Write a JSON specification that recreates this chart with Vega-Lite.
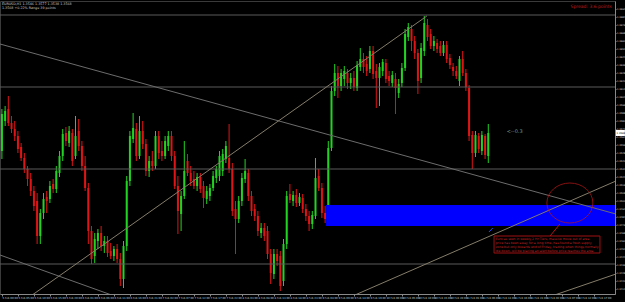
{
"$schema": "https://vega.github.io/schema/vega-lite/v6.json",
"width": 615, "height": 293,
"autosize": {"type": "none"},
"padding": {"left": 0, "top": 1, "right": 10, "bottom": 8},
"background": "#000000",
"config": {"view": {"stroke": "#3a3a3a", "strokeWidth": 1}, "axis": {"grid": false, "title": null, "labelOverlap": false, "labelFlush": false, "labelBound": false, "labelFont": "DejaVu Sans", "labelColor": "#cfcfcf", "tickColor": "#888888", "domainColor": "#888888", "labelPadding": 0.5}, "axisX": {"labelAlign": "left", "labelFontSize": 2.6, "tickSize": 2}, "axisY": {"labelFontSize": 2.4, "tickSize": 1}, "text": {"font": "DejaVu Sans"}},
"datasets": {
"candles": [
{"i":0,"o":1.3550,"h":1.3592,"l":1.3542,"c":1.3587},
{"i":1,"o":1.3580,"h":1.3595,"l":1.3575,"c":1.3590},
{"i":2,"o":1.3592,"h":1.3605,"l":1.3575,"c":1.3578},
{"i":3,"o":1.3578,"h":1.3585,"l":1.3568,"c":1.3572},
{"i":4,"o":1.3572,"h":1.3580,"l":1.3560,"c":1.3565},
{"i":5,"o":1.3565,"h":1.3570,"l":1.3548,"c":1.3552},
{"i":6,"o":1.3554,"h":1.3558,"l":1.3540,"c":1.3543},
{"i":7,"o":1.3543,"h":1.3548,"l":1.3528,"c":1.3532},
{"i":8,"o":1.3532,"h":1.3535,"l":1.3515,"c":1.3522},
{"i":9,"o":1.3522,"h":1.3528,"l":1.3505,"c":1.3510},
{"i":10,"o":1.3510,"h":1.3515,"l":1.3490,"c":1.3495},
{"i":11,"o":1.3500,"h":1.3508,"l":1.3457,"c":1.3465},
{"i":12,"o":1.3465,"h":1.3492,"l":1.3457,"c":1.3488},
{"i":13,"o":1.3488,"h":1.3508,"l":1.3482,"c":1.3502},
{"i":14,"o":1.3504,"h":1.3510,"l":1.3488,"c":1.3500},
{"i":15,"o":1.3502,"h":1.3520,"l":1.3498,"c":1.3515},
{"i":16,"o":1.3517,"h":1.3522,"l":1.3508,"c":1.3512},
{"i":17,"o":1.3512,"h":1.3535,"l":1.3508,"c":1.3530},
{"i":18,"o":1.3528,"h":1.3550,"l":1.3524,"c":1.3545},
{"i":19,"o":1.3545,"h":1.3572,"l":1.3540,"c":1.3567},
{"i":20,"o":1.3568,"h":1.3574,"l":1.3555,"c":1.3560},
{"i":21,"o":1.3558,"h":1.3575,"l":1.3554,"c":1.3570},
{"i":22,"o":1.3568,"h":1.3572,"l":1.3535,"c":1.3540},
{"i":23,"o":1.3545,"h":1.3585,"l":1.3542,"c":1.3565},
{"i":24,"o":1.3570,"h":1.3582,"l":1.3550,"c":1.3555},
{"i":25,"o":1.3555,"h":1.3560,"l":1.3530,"c":1.3535},
{"i":26,"o":1.3535,"h":1.3545,"l":1.3510,"c":1.3513},
{"i":27,"o":1.3513,"h":1.3518,"l":1.3457,"c":1.3470},
{"i":28,"o":1.3470,"h":1.3475,"l":1.3437,"c":1.3442},
{"i":29,"o":1.3445,"h":1.3468,"l":1.3438,"c":1.3462},
{"i":30,"o":1.3460,"h":1.3472,"l":1.3452,"c":1.3468},
{"i":31,"o":1.3468,"h":1.3475,"l":1.3450,"c":1.3455},
{"i":32,"o":1.3455,"h":1.3465,"l":1.3448,"c":1.3460},
{"i":33,"o":1.3460,"h":1.3465,"l":1.3444,"c":1.3448},
{"i":34,"o":1.3450,"h":1.3458,"l":1.3442,"c":1.3445},
{"i":35,"o":1.3445,"h":1.3455,"l":1.3440,"c":1.3452},
{"i":36,"o":1.3452,"h":1.3457,"l":1.3438,"c":1.3442},
{"i":37,"o":1.3442,"h":1.3448,"l":1.3415,"c":1.3422},
{"i":38,"o":1.3422,"h":1.3460,"l":1.3413,"c":1.3455},
{"i":39,"o":1.3455,"h":1.3525,"l":1.3450,"c":1.3520},
{"i":40,"o":1.3520,"h":1.3570,"l":1.3515,"c":1.3565},
{"i":41,"o":1.3562,"h":1.3588,"l":1.3558,"c":1.3573},
{"i":42,"o":1.3572,"h":1.3578,"l":1.3540,"c":1.3545},
{"i":43,"o":1.3545,"h":1.3585,"l":1.3542,"c":1.3570},
{"i":44,"o":1.3570,"h":1.3580,"l":1.3552,"c":1.3557},
{"i":45,"o":1.3557,"h":1.3562,"l":1.3525,"c":1.3530},
{"i":46,"o":1.3530,"h":1.3545,"l":1.3524,"c":1.3540},
{"i":47,"o":1.3540,"h":1.3550,"l":1.3530,"c":1.3535},
{"i":48,"o":1.3535,"h":1.3570,"l":1.3532,"c":1.3565},
{"i":49,"o":1.3565,"h":1.3570,"l":1.3542,"c":1.3548},
{"i":50,"o":1.3550,"h":1.3560,"l":1.3540,"c":1.3545},
{"i":51,"o":1.3545,"h":1.3565,"l":1.3542,"c":1.3560},
{"i":52,"o":1.3555,"h":1.3570,"l":1.3550,"c":1.3565},
{"i":53,"o":1.3565,"h":1.3570,"l":1.3540,"c":1.3545},
{"i":54,"o":1.3545,"h":1.3550,"l":1.3512,"c":1.3515},
{"i":55,"o":1.3515,"h":1.3525,"l":1.3467,"c":1.3490},
{"i":56,"o":1.3487,"h":1.3510,"l":1.3470,"c":1.3505},
{"i":57,"o":1.3505,"h":1.3560,"l":1.3502,"c":1.3530},
{"i":58,"o":1.3540,"h":1.3547,"l":1.3525,"c":1.3528},
{"i":59,"o":1.3528,"h":1.3535,"l":1.3515,"c":1.3520},
{"i":60,"o":1.3522,"h":1.3530,"l":1.3512,"c":1.3515},
{"i":61,"o":1.3515,"h":1.3528,"l":1.3510,"c":1.3524},
{"i":62,"o":1.3524,"h":1.3528,"l":1.3508,"c":1.3512},
{"i":63,"o":1.3515,"h":1.3520,"l":1.3493,"c":1.3503},
{"i":64,"o":1.3502,"h":1.3515,"l":1.3497,"c":1.3510},
{"i":65,"o":1.3505,"h":1.3517,"l":1.3500,"c":1.3513},
{"i":66,"o":1.3513,"h":1.3530,"l":1.3510,"c":1.3525},
{"i":67,"o":1.3523,"h":1.3535,"l":1.3518,"c":1.3532},
{"i":68,"o":1.3525,"h":1.3550,"l":1.3520,"c":1.3545},
{"i":69,"o":1.3530,"h":1.3552,"l":1.3525,"c":1.3547},
{"i":70,"o":1.3542,"h":1.3560,"l":1.3538,"c":1.3555},
{"i":71,"o":1.3543,"h":1.3577,"l":1.3528,"c":1.3532},
{"i":72,"o":1.3532,"h":1.3538,"l":1.3485,"c":1.3490},
{"i":73,"o":1.3492,"h":1.3500,"l":1.3447,"c":1.3482},
{"i":74,"o":1.3482,"h":1.3505,"l":1.3478,"c":1.3500},
{"i":75,"o":1.3500,"h":1.3528,"l":1.3495,"c":1.3523},
{"i":76,"o":1.3522,"h":1.3542,"l":1.3518,"c":1.3530},
{"i":77,"o":1.3528,"h":1.3532,"l":1.3500,"c":1.3505},
{"i":78,"o":1.3505,"h":1.3510,"l":1.3485,"c":1.3490},
{"i":79,"o":1.3492,"h":1.3497,"l":1.3480,"c":1.3485},
{"i":80,"o":1.3485,"h":1.3490,"l":1.3465,"c":1.3470},
{"i":81,"o":1.3468,"h":1.3478,"l":1.3463,"c":1.3473},
{"i":82,"o":1.3473,"h":1.3478,"l":1.3460,"c":1.3465},
{"i":83,"o":1.3470,"h":1.3475,"l":1.3442,"c":1.3447},
{"i":84,"o":1.3447,"h":1.3452,"l":1.3417,"c":1.3428},
{"i":85,"o":1.3427,"h":1.3452,"l":1.3422,"c":1.3447},
{"i":86,"o":1.3447,"h":1.3452,"l":1.3435,"c":1.3440},
{"i":87,"o":1.3445,"h":1.3450,"l":1.3410,"c":1.3415},
{"i":88,"o":1.3420,"h":1.3462,"l":1.3415,"c":1.3457},
{"i":89,"o":1.3457,"h":1.3510,"l":1.3452,"c":1.3505},
{"i":90,"o":1.3507,"h":1.3517,"l":1.3498,"c":1.3501},
{"i":91,"o":1.3500,"h":1.3510,"l":1.3495,"c":1.3506},
{"i":92,"o":1.3506,"h":1.3512,"l":1.3494,"c":1.3498},
{"i":93,"o":1.3498,"h":1.3508,"l":1.3495,"c":1.3504},
{"i":94,"o":1.3503,"h":1.3507,"l":1.3488,"c":1.3492},
{"i":95,"o":1.3492,"h":1.3497,"l":1.3480,"c":1.3485},
{"i":96,"o":1.3485,"h":1.3490,"l":1.3470,"c":1.3477},
{"i":97,"o":1.3477,"h":1.3490,"l":1.3472,"c":1.3486},
{"i":98,"o":1.3485,"h":1.3543,"l":1.3482,"c":1.3523},
{"i":99,"o":1.3525,"h":1.3532,"l":1.3510,"c":1.3513},
{"i":100,"o":1.3513,"h":1.3518,"l":1.3483,"c":1.3488},
{"i":101,"o":1.3488,"h":1.3495,"l":1.3478,"c":1.3482},
{"i":102,"o":1.3482,"h":1.3560,"l":1.3478,"c":1.3553},
{"i":103,"o":1.3553,"h":1.3615,"l":1.3550,"c":1.3610},
{"i":104,"o":1.3610,"h":1.3637,"l":1.3605,"c":1.3628},
{"i":105,"o":1.3628,"h":1.3635,"l":1.3603,"c":1.3615},
{"i":106,"o":1.3615,"h":1.3632,"l":1.3610,"c":1.3628},
{"i":107,"o":1.3622,"h":1.3635,"l":1.3615,"c":1.3630},
{"i":108,"o":1.3628,"h":1.3632,"l":1.3612,"c":1.3618},
{"i":109,"o":1.3618,"h":1.3628,"l":1.3612,"c":1.3623},
{"i":110,"o":1.3623,"h":1.3630,"l":1.3610,"c":1.3614},
{"i":111,"o":1.3613,"h":1.3640,"l":1.3610,"c":1.3636},
{"i":112,"o":1.3634,"h":1.3653,"l":1.3630,"c":1.3642},
{"i":113,"o":1.3642,"h":1.3648,"l":1.3628,"c":1.3634},
{"i":114,"o":1.3637,"h":1.3645,"l":1.3625,"c":1.3630},
{"i":115,"o":1.3632,"h":1.3655,"l":1.3628,"c":1.3650},
{"i":116,"o":1.3650,"h":1.3655,"l":1.3622,"c":1.3627},
{"i":117,"o":1.3630,"h":1.3637,"l":1.3593,"c":1.3623},
{"i":118,"o":1.3623,"h":1.3638,"l":1.3595,"c":1.3634},
{"i":119,"o":1.3630,"h":1.3642,"l":1.3625,"c":1.3639},
{"i":120,"o":1.3638,"h":1.3642,"l":1.3618,"c":1.3622},
{"i":121,"o":1.3625,"h":1.3630,"l":1.3615,"c":1.3620},
{"i":122,"o":1.3618,"h":1.3630,"l":1.3614,"c":1.3626},
{"i":123,"o":1.3622,"h":1.3628,"l":1.3587,"c":1.3613},
{"i":124,"o":1.3608,"h":1.3622,"l":1.3603,"c":1.3617},
{"i":125,"o":1.3618,"h":1.3638,"l":1.3614,"c":1.3633},
{"i":126,"o":1.3633,"h":1.3672,"l":1.3630,"c":1.3667},
{"i":127,"o":1.3664,"h":1.3678,"l":1.3660,"c":1.3674},
{"i":128,"o":1.3672,"h":1.3676,"l":1.3650,"c":1.3660},
{"i":129,"o":1.3660,"h":1.3665,"l":1.3642,"c":1.3648},
{"i":130,"o":1.3648,"h":1.3652,"l":1.3607,"c":1.3620},
{"i":131,"o":1.3623,"h":1.3658,"l":1.3618,"c":1.3653},
{"i":132,"o":1.3650,"h":1.3685,"l":1.3645,"c":1.3678},
{"i":133,"o":1.3676,"h":1.3682,"l":1.3660,"c":1.3664},
{"i":134,"o":1.3667,"h":1.3672,"l":1.3652,"c":1.3655},
{"i":135,"o":1.3655,"h":1.3665,"l":1.3650,"c":1.3660},
{"i":136,"o":1.3658,"h":1.3662,"l":1.3648,"c":1.3652},
{"i":137,"o":1.3655,"h":1.3660,"l":1.3645,"c":1.3648},
{"i":138,"o":1.3648,"h":1.3660,"l":1.3645,"c":1.3656},
{"i":139,"o":1.3656,"h":1.3660,"l":1.3638,"c":1.3642},
{"i":140,"o":1.3643,"h":1.3647,"l":1.3632,"c":1.3636},
{"i":141,"o":1.3634,"h":1.3638,"l":1.3625,"c":1.3630},
{"i":142,"o":1.3630,"h":1.3635,"l":1.3622,"c":1.3625},
{"i":143,"o":1.3620,"h":1.3645,"l":1.3615,"c":1.3642},
{"i":144,"o":1.3642,"h":1.3650,"l":1.3625,"c":1.3628},
{"i":145,"o":1.3628,"h":1.3632,"l":1.3610,"c":1.3614},
{"i":146,"o":1.3613,"h":1.3616,"l":1.3560,"c":1.3565},
{"i":147,"o":1.3566,"h":1.3570,"l":1.3532,"c":1.3548},
{"i":148,"o":1.3548,"h":1.3570,"l":1.3544,"c":1.3566},
{"i":149,"o":1.3565,"h":1.3568,"l":1.3548,"c":1.3552},
{"i":150,"o":1.3550,"h":1.3570,"l":1.3546,"c":1.3566},
{"i":151,"o":1.3565,"h":1.3567,"l":1.3542,"c":1.3546},
{"i":152,"o":1.3545,"h":1.3577,"l":1.3538,"c":1.3568}
],
"lines": [
{"id":"d1","i":-0.6,"p":1.3657},{"id":"d1","i":191.9,"p":1.3487},
{"id":"a","i":8.15,"p":1.3403},{"id":"a","i":132.8,"p":1.3685},
{"id":"d2","i":-0.6,"p":1.3446},{"id":"d2","i":36.9,"p":1.3403},
{"id":"b","i":108.2,"p":1.3403},{"id":"b","i":191.9,"p":1.3520},
{"id":"c","i":170,"p":1.3403},{"id":"c","i":191.9,"p":1.3427},
{"id":"m","i":152.2,"p":1.3469},{"id":"m","i":153.4,"p":1.3473},
{"id":"r","i":174.4,"p":1.3477},{"id":"r","i":171.3,"p":1.3465}
]
},
"layer": [
{
"data": {"name": "candles"},
"mark": {"type": "rule", "strokeWidth": 1},
"encoding": {
"x": {"field": "i", "type": "quantitative", "scale": {"domain": [-0.6, 191.6], "nice": false, "zero": false},
"axis": {"values": [0,5,10,15,20,25,30,35,40,45,50,55,60,65,70,75,80,85,90,95,100,105,110,115,120,125,130,135,140,145,150,155,160,165,170,175,180,185],
"tickCount": 500,
"labelExpr": "timeFormat(datetime(2013,1,5,datum.value),'%-d %b %H:%M')", "labelOverlap": false}},
"y": {"field": "l", "type": "quantitative", "scale": {"domain": [1.3407, 1.37], "nice": false, "zero": false},
"axis": {"orient": "right", "values": [1.3412,1.342,1.3428,1.3436,1.3444,1.3452,1.346,1.3468,1.3476,1.3484,1.3492,1.35,1.3508,1.3516,1.3524,1.3532,1.354,1.3548,1.3556,1.3564,1.3572,1.358,1.3588,1.3596,1.3604,1.3612,1.362,1.3628,1.3636,1.3644,1.3652,1.366,1.3668,1.3676,1.3684,1.3692],
"tickCount": 500,
"format": ".4f", "labelOverlap": false}},
"y2": {"field": "h"},
"color": {"condition": {"test": "datum.c >= datum.o", "value": "#22d422"}, "value": "#e01414"}
}
},
{
"data": {"name": "candles"},
"mark": {"type": "rule", "strokeWidth": 2},
"encoding": {
"x": {"field": "i", "type": "quantitative", "scale": {"domain": [-0.6, 191.6], "nice": false, "zero": false}},
"y": {"field": "o", "type": "quantitative", "scale": {"domain": [1.3407, 1.37], "nice": false, "zero": false}},
"y2": {"field": "c"},
"color": {"condition": {"test": "datum.c >= datum.o", "value": "#22d422"}, "value": "#e01414"}
}
},
{
"data": {"values": [{"p":1.3686},{"p":1.3614},{"p":1.3532},{"p":1.3437}]},
"mark": {"type": "rule", "color": "#5a5a5a", "strokeWidth": 1},
"encoding": {
"y": {"field": "p", "type": "quantitative", "scale": {"domain": [1.3407, 1.37], "nice": false, "zero": false}}
}
},
{
"data": {"values": [{}]},
"mark": {"type": "rect", "color": "#0000ff", "clip": true},
"encoding": {
"x": {"datum": 101.3, "type": "quantitative", "scale": {"domain": [-0.6, 191.6], "nice": false, "zero": false}},
"x2": {"datum": 193},
"y": {"datum": 1.3496, "type": "quantitative", "scale": {"domain": [1.3407, 1.37], "nice": false, "zero": false}},
"y2": {"datum": 1.3475}
}
},
{
"data": {"name": "lines"},
"mark": {"type": "line", "strokeWidth": 1, "clip": true},
"encoding": {
"x": {"field": "i", "type": "quantitative", "scale": {"domain": [-0.6, 191.6], "nice": false, "zero": false}},
"y": {"field": "p", "type": "quantitative", "scale": {"domain": [1.3407, 1.37], "nice": false, "zero": false}},
"detail": {"field": "id"},
"color": {"field": "id", "type": "nominal", "scale": {"domain": ["d1","a","d2","b","c","m","r"], "range": ["#6c6c6c","#857d6a","#6c6c6c","#857d6a","#857d6a","#2a4cff","#b01818"]}, "legend": null}
}
},
{
"data": {"values": [{}]},
"mark": {"type": "point", "shape": "M -1.07 0 A 1.07 0.93 0 1 0 1.07 0 A 1.07 0.93 0 1 0 -1.07 0 Z", "size": 1849, "filled": false, "stroke": "#c01818", "strokeWidth": 1},
"encoding": {
"x": {"datum": 177.5, "type": "quantitative", "scale": {"domain": [-0.6, 191.6], "nice": false, "zero": false}},
"y": {"datum": 1.3498, "type": "quantitative", "scale": {"domain": [1.3407, 1.37], "nice": false, "zero": false}}
}
},
{
"data": {"values": [{}]},
"mark": {"type": "rect", "fill": "#000000", "stroke": "#a01010", "strokeWidth": 1},
"encoding": {
"x": {"datum": 153.8, "type": "quantitative", "scale": {"domain": [-0.6, 191.6], "nice": false, "zero": false}},
"x2": {"datum": 186.9},
"y": {"datum": 1.3465, "type": "quantitative", "scale": {"domain": [1.3407, 1.37], "nice": false, "zero": false}},
"y2": {"datum": 1.3448}
}
},
{
"data": {"values": [{}]},
"mark": {"type": "text", "align": "left", "baseline": "top", "fontSize": 3.1, "lineHeight": 4, "lineBreak": "\n", "color": "#c82020"},
"encoding": {
"x": {"datum": 154.3, "type": "quantitative", "scale": {"domain": [-0.6, 191.6], "nice": false, "zero": false}},
"y": {"datum": 1.3463, "type": "quantitative", "scale": {"domain": [1.3407, 1.37], "nice": false, "zero": false}},
"text": {"value": "Euro as seen in weekly 2 Hr Tiers, massive move out of area\nprice has been away for a long time, has found a fresh supply\nzone but only towards end of Friday, trading when things normally\ndie down, will be placing an alert before price reaches the area"}
}
},
{
"data": {"values": [{}]},
"mark": {"type": "text", "align": "left", "baseline": "middle", "fontSize": 5, "color": "#6f9a95"},
"encoding": {
"x": {"datum": 157.8, "type": "quantitative", "scale": {"domain": [-0.6, 191.6], "nice": false, "zero": false}},
"y": {"datum": 1.3570, "type": "quantitative", "scale": {"domain": [1.3407, 1.37], "nice": false, "zero": false}},
"text": {"value": "<--0.3"}
}
},
{
"data": {"values": [{}]},
"mark": {"type": "text", "align": "left", "baseline": "top", "fontSize": 3.3, "lineHeight": 3.8, "lineBreak": "\n", "color": "#c8c8c8"},
"encoding": {
"x": {"datum": 0, "type": "quantitative", "scale": {"domain": [-0.6, 191.6], "nice": false, "zero": false}},
"y": {"datum": 1.3699, "type": "quantitative", "scale": {"domain": [1.3407, 1.37], "nice": false, "zero": false}},
"text": {"value": "EURUSD,H1  1.3546 1.3577 1.3538 1.3568\n1.3568  +0.22%  Range 39 points"}
}
},
{
"data": {"values": [{}]},
"mark": {"type": "text", "align": "right", "baseline": "top", "fontSize": 4.5, "color": "#c01a1a"},
"encoding": {
"x": {"datum": 190.6, "type": "quantitative", "scale": {"domain": [-0.6, 191.6], "nice": false, "zero": false}},
"y": {"datum": 1.3697, "type": "quantitative", "scale": {"domain": [1.3407, 1.37], "nice": false, "zero": false}},
"text": {"value": "Spread: 3.6 points"}
}
},
{
"data": {"values": [{}]},
"mark": {"type": "rect", "fill": "#ffffff", "clip": false},
"encoding": {
"x": {"datum": 191.9, "type": "quantitative", "scale": {"domain": [-0.6, 191.6], "nice": false, "zero": false}},
"x2": {"datum": 194.7},
"y": {"datum": 1.3571, "type": "quantitative", "scale": {"domain": [1.3407, 1.37], "nice": false, "zero": false}},
"y2": {"datum": 1.3565}
}
},
{
"data": {"values": [{}]},
"mark": {"type": "text", "align": "left", "baseline": "middle", "fontSize": 2.4, "color": "#000000", "clip": false},
"encoding": {
"x": {"datum": 192.1, "type": "quantitative", "scale": {"domain": [-0.6, 191.6], "nice": false, "zero": false}},
"y": {"datum": 1.3568, "type": "quantitative", "scale": {"domain": [1.3407, 1.37], "nice": false, "zero": false}},
"text": {"value": "1.3568"}
}
}
]
}
